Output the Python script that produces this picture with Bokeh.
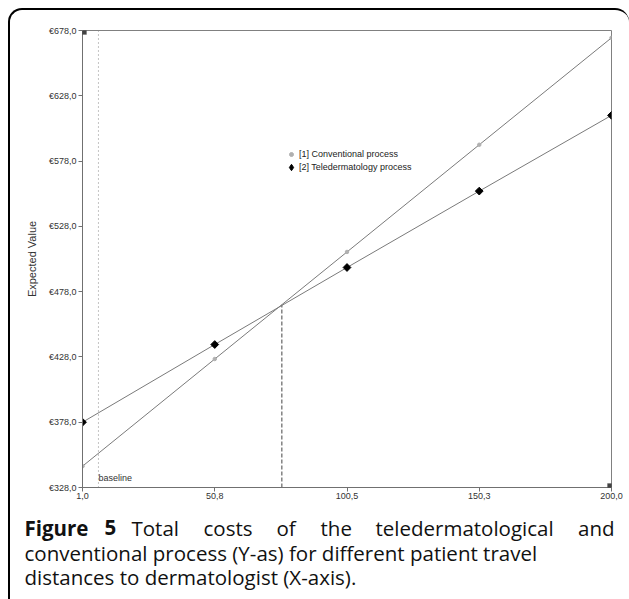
from bokeh.plotting import figure
from bokeh.layouts import column
from bokeh.models import Range1d, FixedTicker, Legend, LegendItem, Label, BoxAnnotation
from bokeh.embed import file_html
from bokeh.resources import INLINE

# ---- data -------------------------------------------------------------
distance_km = [1.0, 50.75, 100.5, 150.25, 200.0]
conventional = [344.3, 426.4, 508.4, 590.5, 672.4]
teledermatology = [378.0, 437.5, 496.5, 555.0, 613.0]
x_ticks = [1.0, 50.75, 100.5, 150.25, 200.0]
x_tick_labels = ["1,0", "50,8", "100,5", "150,3", "200,0"]
y_ticks = [328, 378, 428, 478, 528, 578, 628, 678]
y_tick_labels = ["€328,0", "€378,0", "€428,0", "€478,0", "€528,0", "€578,0", "€628,0", "€678,0"]
series_names = ["[1] Conventional process", "[2] Teledermatology process"]
baseline_km = 7.0
break_even_km = 76.0
break_even_cost = 468.0
x_min, x_max = 1.0, 200.0
y_min, y_max = 328.0, 678.0

FONT = "Liberation Sans"
CAP_FONT = "Open Sans"

OFF = 10          # page offset of the content (margin + border)
W, H = 619, 495   # chart canvas
ML, MR, MT, MB = 72, 18, 20, 18
FW, FH = W - ML - MR, H - MT - MB
CH = 94           # caption canvas height
CAP_SHIFT = 9     # measured correction of caption baseline

p = figure(width=W, height=H, output_backend="svg", toolbar_location=None,
           x_range=Range1d(x_min, x_max), y_range=Range1d(y_min, y_max),
           min_border_left=ML, min_border_right=MR, min_border_top=MT, min_border_bottom=MB,
           frame_align=False)
p.border_fill_alpha = 0
p.xgrid.visible = False
p.ygrid.visible = False
p.outline_line_color = "#808080"
p.outline_line_width = 1

for ax in (p.xaxis[0], p.yaxis[0]):
    ax.axis_line_color = "#707070"
    ax.major_tick_line_color = "#707070"
    ax.minor_tick_line_color = None
    ax.major_tick_in = 0
    ax.major_label_text_font = FONT
    ax.major_label_text_font_size = "9px"
    ax.major_label_text_color = "#333333"

p.xaxis.ticker = FixedTicker(ticks=x_ticks)
p.xaxis.major_label_overrides = {t: l for t, l in zip(x_ticks, x_tick_labels)}
p.xaxis.major_tick_out = 4
p.xaxis.major_label_standoff = 1

p.yaxis.ticker = FixedTicker(ticks=y_ticks)
p.yaxis.major_label_overrides = {t: l for t, l in zip(y_ticks, y_tick_labels)}
p.yaxis.major_tick_out = 4
p.yaxis.major_label_standoff = 2
p.yaxis.axis_label = "Expected Value"
p.yaxis.axis_label_text_font = FONT
p.yaxis.axis_label_text_font_size = "11px"
p.yaxis.axis_label_text_font_style = "normal"
p.yaxis.axis_label_text_color = "#333333"
p.yaxis.axis_label_standoff = 8

# baseline marker and break-even line
p.segment(x0=[baseline_km], y0=[y_min], x1=[baseline_km], y1=[y_max],
          line_color="#888888", line_width=1, line_dash="1 3")
p.segment(x0=[break_even_km], y0=[y_min], x1=[break_even_km], y1=[break_even_cost],
          line_color="#444444", line_width=1, line_dash="4 2")

# series
p.line(distance_km, conventional, line_color="#7a7a7a", line_width=1)
p.line(distance_km, teledermatology, line_color="#7a7a7a", line_width=1)
r_conv = p.scatter(distance_km, conventional, marker="circle", size=3.5,
                   fill_color="#b0b0b0", line_color="#b0b0b0")
r_tele = p.scatter(distance_km, teledermatology, marker="square", angle=0.785398, size=5.5,
                   fill_color="black", line_color="black")
# legend proxy (diamond glyph shown only in the legend)
r_tele_key = p.scatter(distance_km, teledermatology, marker="diamond", size=8,
                       fill_color="black", line_color="black", visible=False)

leg1 = Legend(items=[LegendItem(label=series_names[0], renderers=[r_conv])],
              location=(204, 326), glyph_width=10, glyph_height=10, label_height=14,
              label_standoff=3, padding=0, margin=0, spacing=0,
              border_line_color=None, background_fill_alpha=0,
              label_text_font=FONT, label_text_font_size="9px", label_text_color="#222222")
leg2 = Legend(items=[LegendItem(label=series_names[1], renderers=[r_tele_key])],
              location=(201, 312), glyph_width=16, glyph_height=16, label_height=14,
              label_standoff=0, padding=0, margin=0, spacing=0,
              border_line_color=None, background_fill_alpha=0,
              label_text_font=FONT, label_text_font_size="9px", label_text_color="#222222")
p.add_layout(leg1, "center")
p.add_layout(leg2, "center")

p.add_layout(Label(x=baseline_km, y=y_min, x_offset=0, y_offset=10, text="baseline",
                   text_font=FONT, text_font_size="9px", text_color="#333333",
                   text_baseline="alphabetic"))

# corner markers (frame corners)
for (l, b) in [(-4, FH - 4), (FW - 4, -4)]:
    p.add_layout(BoxAnnotation(left=l, right=l + 8, bottom=b, top=b + 8,
                               left_units="screen", right_units="screen",
                               bottom_units="screen", top_units="screen",
                               fill_color="#222222", fill_alpha=0.85,
                               line_color="#555555", line_width=1, level="overlay"))

# ---- caption ----------------------------------------------------------
c = figure(width=W, height=CH, output_backend="svg", toolbar_location=None,
           x_range=Range1d(0, 1), y_range=Range1d(0, 1),
           x_axis_type=None, y_axis_type=None, frame_align=False,
           min_border_left=0, min_border_right=0, min_border_top=0, min_border_bottom=0)
c.border_fill_alpha = 0
c.background_fill_alpha = 0
c.outline_line_color = None
c.xgrid.visible = False
c.ygrid.visible = False

CAP_TOP = OFF + H   # page y of caption canvas top

def cap(text, sx, sy, bold=False, align="left"):
    c.add_layout(Label(x=sx - OFF, y=CH - (sy - CAP_TOP) + CAP_SHIFT,
                       x_units="screen", y_units="screen",
                       text=text, text_font=CAP_FONT, text_font_size="20.5px",
                       text_font_style="bold" if bold else "normal",
                       text_color="#111111", text_baseline="alphabetic", text_align=align))

line1 = [("Figure", 24, True, "left"), ("5", 104, True, "left"), ("Total", 131, False, "left"),
         ("costs", 203, False, "left"), ("of", 276, False, "left"), ("the", 320, False, "left"),
         ("teledermatological", 375, False, "left"), ("and", 614, False, "right")]
for t, x, b, a in line1:
    cap(t, x, 536, b, a)
cap("conventional process (Y-as) for different patient travel", 24, 561)
cap("distances to dermatologist (X-axis).", 24, 585)

layout = column(p, c, spacing=0,
                styles={"margin-left": "8px", "margin-top": "8px",
                        "border-top": "2px solid black", "border-left": "2px solid black",
                        "border-top-left-radius": "14px", "border-top-right-radius": "14px"})

open("out.html", "w").write(file_html(layout, INLINE))
